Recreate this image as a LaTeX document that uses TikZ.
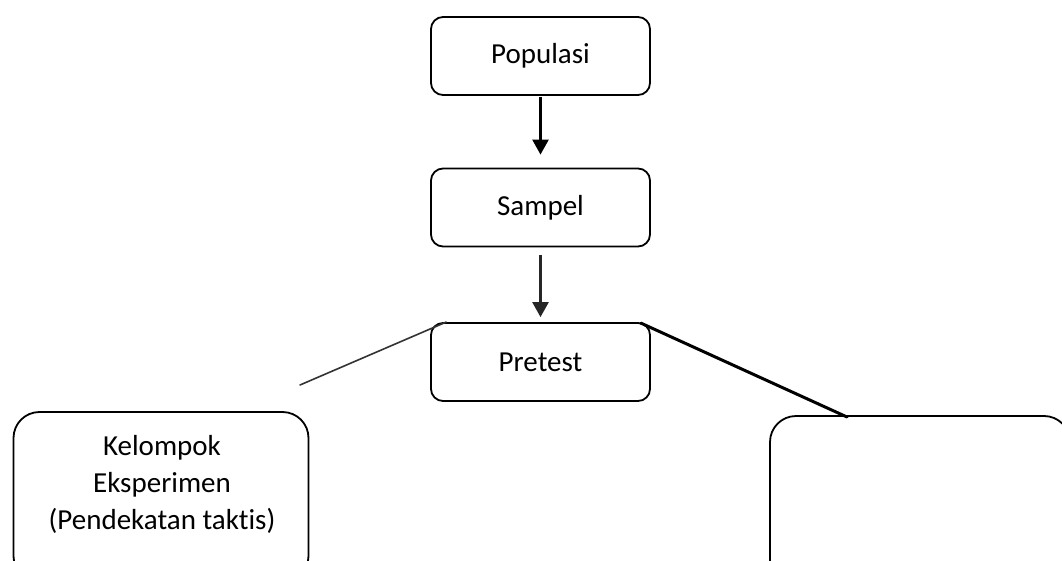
\documentclass[tikz,border=0pt]{standalone}
\usepackage{fontspec}
\setmainfont{Carlito}[Ligatures=NoCommon]
\usetikzlibrary{arrows.meta,calc}
\begin{document}
\begin{tikzpicture}[x=1pt,y=-1pt,
  topbox/.style={draw=black,line width=1.8pt,rounded corners=12pt,minimum width=219pt,minimum height=78pt,inner sep=0pt,font=\fontsize{29}{37}\selectfont},
  bigbox/.style={draw=black,line width=1.8pt,rounded corners=26pt,minimum width=295pt,minimum height=170pt,inner sep=0pt},
  txt/.style={align=center,inner sep=0pt,font=\fontsize{29}{37}\selectfont},
  arr/.style={line width=2.5pt,-{Triangle[length=15pt,width=16pt]}},
  link/.style={line cap=round}]
\useasboundingbox (0,0) rectangle (1062,561);
\clip (0,0) rectangle (1062,561);
\fill[white] (0,0) rectangle (1062,561);
\node[topbox] (pop) at (540.5,56) {Populasi};
\node[topbox] (sam) at (540.5,207.5) {Sampel};
\node[topbox] (pre) at (540.5,362) {Pretest};
\node[bigbox] (kel) at (161,497) {};
\node[txt] (keltext) at (162,484) {Kelompok\\Eksperimen\\(Pendekatan takt{}is)};
\node[bigbox,minimum width=300pt] (kon) at (920,501) {};
\draw[arr,shorten <=1pt,shorten >=13pt] (pop.south) -- (sam.north);
\draw[arr,black!85,shorten <=8pt,shorten >=5pt] (sam.south) -- (pre.north);
\coordinate (lfree) at (300,385);
\coordinate (rend) at (847,417);
\draw[link,line width=1.6pt,black!80] (lfree) -- ($(pre.north west)+(16,0)$);
\draw[link,line width=3pt] ($(pre.north east)+(-10,1)$) -- (rend);
\end{tikzpicture}
\end{document}
